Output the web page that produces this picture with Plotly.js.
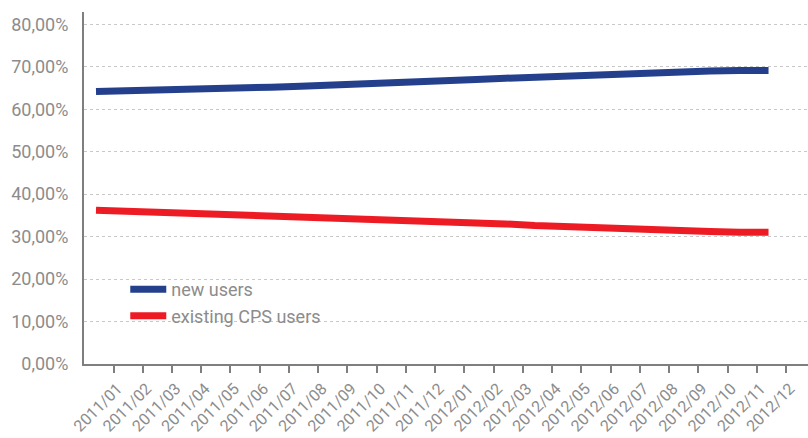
<!DOCTYPE html>
<html>
<head>
<meta charset="utf-8">
<script src="https://cdn.plot.ly/plotly-3.0.1.min.js"></script>
<style>
  html, body { margin: 0; padding: 0; background: #ffffff; }
  #chart { width: 808px; height: 438px; }
</style>
</head>
<body>
<div id="chart"></div>
<script>
// Month categories (x axis)
const months = [
  "2011/01","2011/02","2011/03","2011/04","2011/05","2011/06",
  "2011/07","2011/08","2011/09","2011/10","2011/11","2011/12",
  "2012/01","2012/02","2012/03","2012/04","2012/05","2012/06",
  "2012/07","2012/08","2012/09","2012/10","2012/11","2012/12"
];
// Share of new users (%)
const newUsers = [
  64.2, 64.3, 64.5, 64.6, 64.8, 65.0, 65.2, 65.4, 65.6, 65.9, 66.1, 66.4,
  66.7, 67.0, 67.3, 67.6, 67.9, 68.2, 68.5, 68.7, 68.9, 69.0, 69.1, 69.1
];
// Share of existing CPS users (%)
const existingUsers = [
  36.2, 36.0, 35.8, 35.6, 35.4, 35.2, 35.0, 34.8, 34.6, 34.3, 34.0, 33.7,
  33.4, 33.2, 33.0, 32.6, 32.3, 32.0, 31.8, 31.6, 31.4, 31.2, 31.0, 31.0
];
const seriesNames = ["new users", "existing CPS users"];
const yTicks = [0, 10, 20, 30, 40, 50, 60, 70, 80];
const yTickText = yTicks.map(v => v.toFixed(2).replace(".", ",") + "%");

const gray = "#8c8c8c";
const fontFamily = "Roboto, 'DejaVu Sans', sans-serif";
const fs = 18;

const traces = [
  {
    x: months, y: newUsers, name: seriesNames[0],
    type: "scatter", mode: "lines",
    line: { color: "#243f8c", width: 7 },
    xaxis: "x2", yaxis: "y"
  },
  {
    x: months, y: existingUsers, name: seriesNames[1],
    type: "scatter", mode: "lines",
    line: { color: "#ed1c24", width: 7 },
    xaxis: "x2", yaxis: "y"
  },
  // empty helper trace so the month-label axis (x) is laid out and drawn
  {
    x: months.map((m, i) => i), y: months.map(() => null),
    type: "scatter", mode: "lines", showlegend: false, hoverinfo: "skip",
    xaxis: "x", yaxis: "y"
  }
];

const layout = {
  width: 808, height: 438,
  margin: { l: 84, r: 0, t: 12, b: 74, pad: 0 },
  paper_bgcolor: "#ffffff",
  plot_bgcolor: "#ffffff",
  font: { family: fontFamily, color: gray, size: fs },
  showlegend: true,
  legend: {
    x: 0.057, y: 0.264, xanchor: "left", yanchor: "top",
    bgcolor: "rgba(0,0,0,0)", borderwidth: 0,
    font: { family: fontFamily, color: gray, size: fs },
    itemwidth: 36, tracegroupgap: 0
  },
  // tick / label axis (month labels sit on the ticks)
  xaxis: {
    type: "linear",
    range: [-1.009, 23.75],
    tickmode: "array",
    tickvals: months.map((m, i) => i),
    ticktext: months,
    tickangle: -45,
    ticklabelshift: 4,
    ticks: "outside", ticklen: 7, tickwidth: 2, tickcolor: "#7f7f7f",
    showline: true, linecolor: "#7f7f7f", linewidth: 2,
    showgrid: false, zeroline: false,
    tickfont: { family: fontFamily, color: gray, size: 16 },
    fixedrange: true
  },
  // data axis for the lines (categories, hidden)
  xaxis2: {
    overlaying: "x", anchor: "y", side: "bottom",
    type: "category",
    categoryorder: "array", categoryarray: months,
    range: [-0.41, 24.35],
    showticklabels: false, ticks: "",
    showgrid: false, zeroline: false, showline: false,
    fixedrange: true
  },
  yaxis: {
    range: [0, 82.9],
    tickmode: "array",
    tickvals: yTicks,
    ticktext: yTickText,
    ticks: "", ticklabelstandoff: 10,
    showline: true, linecolor: "#7f7f7f", linewidth: 2,
    showgrid: true, gridcolor: "#c8c8c8", gridwidth: 1, griddash: "3px,3px",
    zeroline: false,
    tickfont: { family: fontFamily, color: gray, size: fs },
    fixedrange: true
  }
};

Plotly.newPlot("chart", traces, layout, { staticPlot: true, displayModeBar: false });
</script>
</body>
</html>
